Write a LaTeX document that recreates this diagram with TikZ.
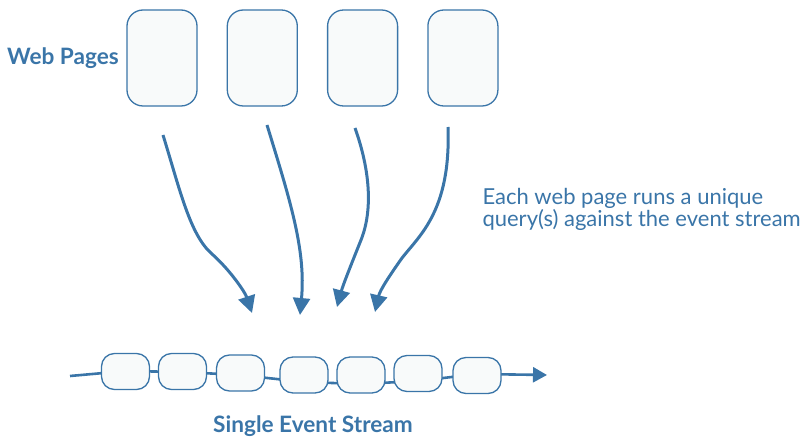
\documentclass[tikz,border=0pt]{standalone}
\usepackage{fontspec}
\setmainfont{Lato}
\usepackage{tikz}
\usetikzlibrary{arrows.meta, positioning}
\definecolor{myblue}{RGB}{58,117,168}
\definecolor{boxfill}{RGB}{248,250,250}
\tikzset{
  page/.style={rectangle, draw=myblue, fill=boxfill, minimum width=70pt,
    minimum height=96pt, rounded corners=16pt, line width=1.3pt},
  event/.style={rectangle, draw=myblue, fill=boxfill, minimum width=48pt,
    minimum height=36pt, rounded corners=13pt, line width=1.3pt},
  query/.style={-{Triangle[length=17pt, width=17pt]}, line width=3pt, color=myblue},
  stream/.style={-{Triangle[length=14pt, width=15pt]}, line width=2.6pt, color=myblue},
  title/.style={font=\fontsize{22.6}{24}\selectfont\bfseries, text=myblue},
  note/.style={font=\fontsize{22}{22}\selectfont, text=myblue, align=left}
}
\begin{document}
\begin{tikzpicture}[x=1pt, y=-1pt]
\useasboundingbox (0,0) rectangle (801,438);
% web pages
\node[page] (page1) at (162,58) {};
\node[page, right=29pt of page1] (page2) {};
\node[page, right=29pt of page2] (page3) {};
\node[page, right=29pt of page3] (page4) {};
\node[title] (pages) at (63,58) {Web Pages};

% query arrows
\coordinate (q1) at (163,135);
\coordinate (q2) at (267,125);
\coordinate (q3) at (355,128);
\coordinate (q4) at (448,127);
\coordinate (t1) at (252,313);
\coordinate (t2) at (300,315);
\coordinate (t3) at (337,307);
\coordinate (t4) at (375,312);
\draw[query] (q1) .. controls (180,190) and (190,235) .. (212,254)
  .. controls (230,270) and (245,292) .. (t1);
\draw[query] (q2) .. controls (290,200) and (306,250) .. (t2);
\draw[query] (q3) .. controls (370,170) and (373,210) .. (361,240)
  .. controls (351,265) and (343,285) .. (t3);
\draw[query] (q4) .. controls (451,210) and (420,235) .. (402,258)
  .. controls (390,275) and (380,290) .. (t4);
\node[note, anchor=north west] (info) at (479,185) {Each web page runs a unique\\query(s) against the event stream};

% event stream
\coordinate (s0) at (70,376);
\coordinate (s1) at (547,375);
\draw[stream] (s0) -- (126,371) -- (182,372) -- (240,375) -- (304,382)
  -- (361,384) -- (418,381) -- (477,374) -- (s1);
\node[event] (e1) at (125.5,371.5) {};
\node[event] (e2) at (182.5,371.5) {};
\node[event] (e3) at (240.5,373) {};
\node[event] (e4) at (304,375) {};
\node[event] (e5) at (361,375) {};
\node[event] (e6) at (418,373.5) {};
\node[event] (e7) at (477,375.5) {};
\node[title] (streamlabel) at (313,426) {Single Event Stream};
\end{tikzpicture}
\end{document}
